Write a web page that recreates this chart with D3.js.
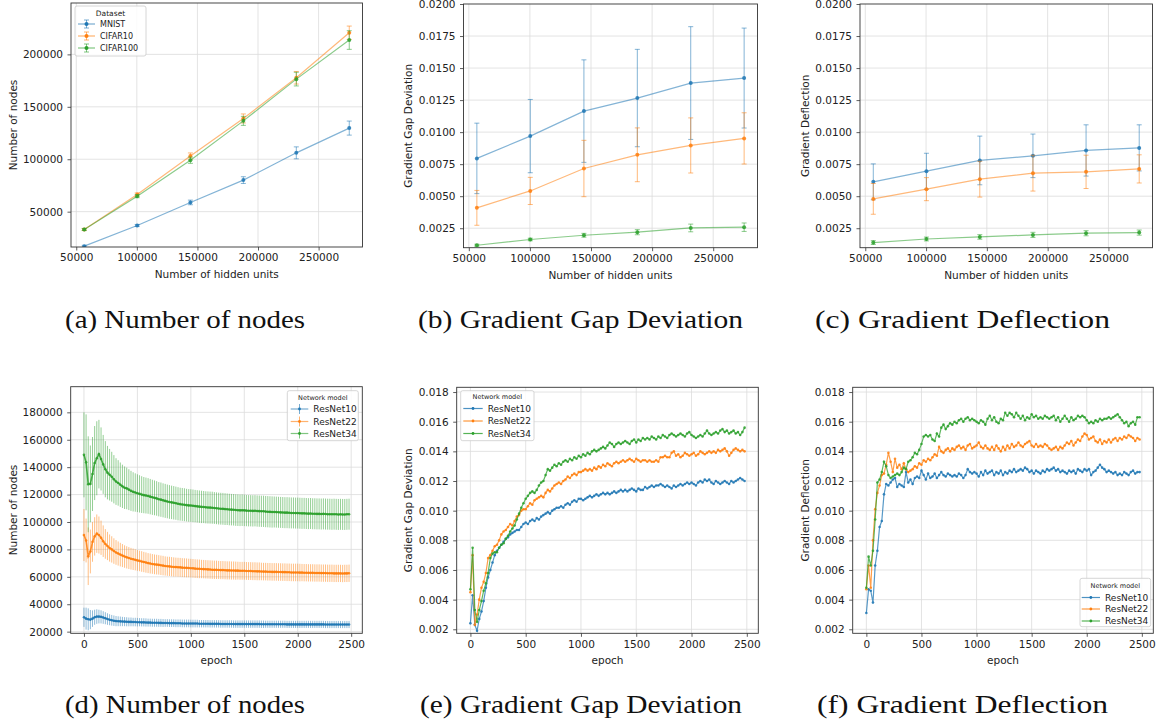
<!DOCTYPE html>
<html>
<head>
<meta charset="utf-8">
<script src="https://cdn.jsdelivr.net/npm/d3@7"></script>
<style>
body { margin: 0; background: #fff; }
svg text { font-family: "DejaVu Sans", sans-serif; fill: #222; }
svg text.caption { font-family: "Liberation Serif", "DejaVu Serif", serif; fill: #111; }
</style>
</head>
<body>
<div id="chart"></div>
<script>
// ---- top row: sweep over hidden units ----
const hiddenUnits = [56600, 100300, 144200, 187900, 231600, 275300];
const hiddenTicks = [50000, 100000, 150000, 200000, 250000];

const nodesMnist = [17100, 36800, 58800, 80100, 106100, 129700];
const nodesMnistErr = [800, 1000, 2200, 3200, 5700, 6700];
const nodesCifar10 = [33000, 66400, 103000, 138900, 177700, 220600];
const nodesCifar10Err = [1000, 1500, 3000, 4300, 6000, 6400];
const nodesCifar100 = [33000, 64800, 99100, 136600, 176400, 213700];
const nodesCifar100Err = [1000, 1500, 3000, 4300, 6500, 8900];
const nodesTicksTop = [50000, 100000, 150000, 200000];

const gapMnist = [0.00795, 0.00969, 0.01164, 0.01266, 0.01383, 0.01422];
const gapMnistErr = [0.00275, 0.00286, 0.0040, 0.0038, 0.0044, 0.0039];
const gapCifar10 = [0.00409, 0.00541, 0.00716, 0.00823, 0.00896, 0.00951];
const gapCifar10Err = [0.00136, 0.00106, 0.0022, 0.0021, 0.00215, 0.0020];
const gapCifar100 = [0.00117, 0.00162, 0.00195, 0.00219, 0.00252, 0.00258];
const gapCifar100Err = [0.00008, 0.0001, 0.00015, 0.0002, 0.0003, 0.00033];

const deflMnist = [0.00612, 0.00695, 0.00779, 0.00815, 0.00857, 0.00877];
const deflMnistErr = [0.0014, 0.0014, 0.0019, 0.0017, 0.0020, 0.0018];
const deflCifar10 = [0.00479, 0.00555, 0.00633, 0.0068, 0.0069, 0.00713];
const deflCifar10Err = [0.0012, 0.0009, 0.0014, 0.0014, 0.0013, 0.0011];
const deflCifar100 = [0.00138, 0.00166, 0.00182, 0.00198, 0.00211, 0.00216];
const deflCifar100Err = [0.00015, 0.00015, 0.00018, 0.0002, 0.0002, 0.0002];
const gradTicksTop = [0.0025, 0.005, 0.0075, 0.01, 0.0125, 0.015, 0.0175, 0.02];

// ---- bottom row: training curves, one point every 20 epochs ----
const epochs = d3.range(0, 2500, 20);
const epochTicks = [0, 500, 1000, 1500, 2000, 2500];

const nodesR10 = [
  30500, 29500, 29000, 28800, 29500, 30500, 31000, 31000, 30800, 30300,
  29800, 29200, 28700, 28300, 28000, 27700, 27600, 27500, 27400, 27300,
  27200, 27100, 27100, 27000, 27000, 26900, 26900, 26800, 26800, 26700,
  26600, 26600, 26500, 26500, 26500, 26400, 26400, 26300, 26300, 26300,
  26200, 26200, 26200, 26100, 26100, 26100, 26000, 26000, 26000, 26000,
  25900, 25900, 25900, 25900, 25800, 25800, 25800, 25800, 25800, 25700,
  25700, 25700, 25700, 25700, 25600, 25600, 25600, 25600, 25600, 25600,
  25500, 25500, 25500, 25500, 25500, 25500, 25500, 25500, 25500, 25500,
  25500, 25500, 25500, 25400, 25400, 25400, 25400, 25400, 25400, 25400,
  25400, 25400, 25400, 25400, 25400, 25300, 25300, 25300, 25300, 25300,
  25300, 25300, 25300, 25300, 25300, 25300, 25300, 25300, 25300, 25300,
  25300, 25300, 25300, 25200, 25200, 25200, 25200, 25200, 25200, 25200,
  25200, 25200, 25200, 25200, 25200];
const nodesR10Err = [
  7000, 8000, 8000, 7000, 6000, 5500, 5300, 5000, 4800, 4600,
  4400, 4200, 4000, 3900, 3800, 3700, 3600, 3500, 3400, 3300,
  3300, 3200, 3200, 3100, 3100, 3100, 3000, 3000, 3000, 3000,
  2900, 2900, 2900, 2900, 2900, 2900, 2900, 2900, 2800, 2800,
  2800, 2800, 2800, 2800, 2800, 2800, 2800, 2800, 2800, 2800,
  2800, 2800, 2800, 2800, 2700, 2700, 2700, 2700, 2700, 2700,
  2700, 2700, 2700, 2700, 2700, 2700, 2700, 2700, 2700, 2700,
  2700, 2700, 2700, 2700, 2700, 2700, 2700, 2700, 2700, 2700,
  2700, 2700, 2700, 2700, 2700, 2600, 2600, 2600, 2600, 2600,
  2600, 2600, 2600, 2600, 2600, 2600, 2600, 2600, 2600, 2600,
  2600, 2600, 2600, 2600, 2600, 2600, 2600, 2600, 2600, 2600,
  2600, 2600, 2600, 2600, 2600, 2600, 2600, 2600, 2600, 2600,
  2600, 2600, 2600, 2600, 2600];
const nodesR22 = [
  90500, 86500, 75000, 78500, 85500, 89500, 91500, 90500, 88500, 86000,
  84000, 82500, 81000, 80000, 78800, 77800, 77000, 76200, 75500, 74800,
  74200, 73700, 73200, 72800, 72400, 72000, 71600, 71200, 70800, 70400,
  70000, 69700, 69400, 69100, 68900, 68700, 68400, 68200, 67900, 67700,
  67600, 67400, 67200, 67100, 67000, 66900, 66700, 66600, 66500, 66400,
  66300, 66200, 66000, 65900, 65800, 65700, 65600, 65500, 65400, 65300,
  65200, 65100, 65100, 65000, 64900, 64900, 64800, 64700, 64700, 64600,
  64600, 64500, 64500, 64400, 64400, 64400, 64300, 64200, 64200, 64100,
  64100, 64000, 64000, 63900, 63800, 63800, 63700, 63700, 63600, 63600,
  63600, 63500, 63500, 63400, 63400, 63300, 63300, 63200, 63200, 63200,
  63200, 63100, 63100, 63000, 63000, 62900, 62900, 62900, 62800, 62800,
  62800, 62700, 62700, 62700, 62600, 62600, 62600, 62500, 62500, 62500,
  62500, 62400, 62500, 62500, 62600];
const nodesR22Err = [
  19000, 16000, 21000, 16000, 14500, 14000, 14000, 13500, 12500, 11500,
  10800, 10300, 9900, 9600, 9300, 9000, 8800, 8600, 8400, 8200,
  8100, 8000, 7900, 7800, 7700, 7600, 7500, 7500, 7400, 7400,
  7300, 7300, 7200, 7200, 7200, 7100, 7100, 7100, 7000, 7000,
  7000, 7000, 7000, 6900, 6900, 6900, 6900, 6900, 6900, 6800,
  6800, 6800, 6800, 6800, 6800, 6700, 6700, 6700, 6700, 6700,
  6700, 6700, 6700, 6600, 6600, 6600, 6600, 6600, 6600, 6600,
  6600, 6600, 6500, 6500, 6500, 6500, 6500, 6500, 6500, 6500,
  6500, 6500, 6500, 6400, 6400, 6400, 6400, 6400, 6400, 6400,
  6400, 6400, 6400, 6400, 6400, 6400, 6400, 6400, 6400, 6400,
  6400, 6400, 6300, 6300, 6300, 6300, 6300, 6300, 6300, 6300,
  6300, 6300, 6300, 6300, 6300, 6300, 6300, 6300, 6300, 6300,
  6300, 6300, 6300, 6300, 6300];
const nodesR34 = [
  149000, 143500, 127500, 127800, 135000, 143000, 146500, 149500, 146000, 142000,
  138500, 136000, 134500, 133000, 131200, 129500, 128500, 127200, 126000, 125000,
  124500, 123600, 122700, 122000, 121500, 121000, 120500, 120000, 119600, 119300,
  119000, 118500, 118000, 117600, 117200, 116600, 116300, 115800, 115400, 115000,
  114600, 114300, 114000, 113700, 113300, 113000, 112800, 112600, 112300, 112100,
  112000, 111800, 111600, 111400, 111200, 111000, 110900, 110700, 110600, 110500,
  110400, 110200, 110000, 109800, 109700, 109600, 109400, 109300, 109100, 109000,
  108900, 108700, 108600, 108500, 108600, 108500, 108300, 108200, 108200, 108100,
  108200, 108000, 107900, 107800, 107800, 107600, 107500, 107400, 107300, 107300,
  107200, 107100, 107000, 106900, 106800, 106800, 106700, 106600, 106600, 106500,
  106500, 106400, 106300, 106300, 106200, 106100, 106200, 106000, 106000, 105900,
  105900, 105800, 105900, 105800, 105700, 105700, 105600, 105700, 105600, 105500,
  105600, 105500, 105500, 105600, 105700];
const nodesR34Err = [
  31000, 35000, 35000, 28000, 27000, 27000, 27000, 25000, 23000, 21500,
  20500, 19500, 18800, 18200, 17600, 17000, 16600, 16200, 15800, 15500,
  15200, 14900, 14600, 14300, 14000, 13800, 13600, 13400, 13200, 13100,
  13000, 12900, 12800, 12700, 12600, 12500, 12500, 12400, 12400, 12300,
  12300, 12200, 12200, 12100, 12100, 12000, 12000, 12000, 11900, 11900,
  11900, 11900, 11800, 11800, 11800, 11800, 11700, 11700, 11700, 11700,
  11700, 11600, 11600, 11600, 11600, 11600, 11600, 11500, 11500, 11500,
  11500, 11500, 11500, 11500, 11500, 11500, 11400, 11400, 11400, 11400,
  11400, 11400, 11400, 11400, 11400, 11400, 11400, 11400, 11400, 11300,
  11300, 11300, 11300, 11300, 11300, 11300, 11300, 11300, 11300, 11300,
  11300, 11300, 11300, 11300, 11300, 11300, 11300, 11300, 11300, 11300,
  11300, 11300, 11300, 11300, 11300, 11300, 11300, 11300, 11300, 11300,
  11300, 11300, 11300, 11300, 11300];
const nodesTicksBottom = [20000, 40000, 60000, 80000, 100000, 120000, 140000, 160000, 180000];

const gapR10 = [
  0.0024, 0.0043, 0.0023, 0.0019, 0.0027, 0.0032, 0.0039, 0.0048, 0.0055, 0.0060,
  0.0065, 0.0070, 0.0073, 0.0075, 0.0077, 0.0079, 0.0081, 0.0082, 0.0084, 0.0085,
  0.0086, 0.0087, 0.0087, 0.0089, 0.0091, 0.0092, 0.0091, 0.0093, 0.0094, 0.0093,
  0.0095, 0.0094, 0.0096, 0.0097, 0.0098, 0.0099, 0.0098, 0.0100, 0.0101, 0.0102,
  0.0102, 0.0103, 0.0102, 0.0104, 0.0105, 0.0104, 0.0106, 0.0107, 0.0106, 0.0108,
  0.0108, 0.0107, 0.0108, 0.0109, 0.0110, 0.0109, 0.0110, 0.0111, 0.0110, 0.0111,
  0.0112, 0.0111, 0.0112, 0.0111, 0.0112, 0.0113, 0.0112, 0.0113, 0.0114, 0.0113,
  0.0114, 0.0113, 0.0114, 0.0115, 0.0114, 0.0113, 0.0115, 0.0114, 0.0114, 0.0116,
  0.0115, 0.0116, 0.0117, 0.0116, 0.0117, 0.0117, 0.0118, 0.0117, 0.0116, 0.0117,
  0.0116, 0.0115, 0.0117, 0.0116, 0.0117, 0.0118, 0.0117, 0.0118, 0.0119, 0.0118,
  0.0119, 0.0118, 0.0117, 0.0119, 0.0120, 0.0119, 0.0121, 0.0120, 0.0121, 0.0119,
  0.0118, 0.0120, 0.0119, 0.0118, 0.0119, 0.0120, 0.0119, 0.0118, 0.0120, 0.0119,
  0.0120, 0.0121, 0.0122, 0.0121, 0.0120];
const gapR22 = [
  0.0045, 0.0070, 0.0023, 0.0030, 0.0040, 0.0048, 0.0052, 0.0058, 0.0068, 0.0070,
  0.0073, 0.0076, 0.0077, 0.0080, 0.0084, 0.0086, 0.0087, 0.0089, 0.0091, 0.0090,
  0.0093, 0.0096, 0.0097, 0.0100, 0.0101, 0.0101, 0.0103, 0.0105, 0.0104, 0.0107,
  0.0108, 0.0109, 0.0110, 0.0109, 0.0112, 0.0114, 0.0113, 0.0115, 0.0117, 0.0118,
  0.0119, 0.0118, 0.0120, 0.0121, 0.0123, 0.0122, 0.0124, 0.0125, 0.0124, 0.0126,
  0.0126, 0.0127, 0.0128, 0.0127, 0.0128, 0.0127, 0.0129, 0.0128, 0.0130, 0.0129,
  0.0131, 0.0130, 0.0132, 0.0131, 0.0130, 0.0132, 0.0133, 0.0132, 0.0133, 0.0134,
  0.0133, 0.0134, 0.0135, 0.0134, 0.0133, 0.0135, 0.0134, 0.0133, 0.0134, 0.0134,
  0.0133, 0.0134, 0.0133, 0.0133, 0.0134, 0.0133, 0.0136, 0.0136, 0.0137, 0.0136,
  0.0136, 0.0139, 0.0140, 0.0137, 0.0138, 0.0136, 0.0137, 0.0139, 0.0138, 0.0137,
  0.0138, 0.0139, 0.0137, 0.0138, 0.0140, 0.0139, 0.0138, 0.0139, 0.0140, 0.0139,
  0.0140, 0.0139, 0.0141, 0.0140, 0.0141, 0.0142, 0.0140, 0.0137, 0.0139, 0.0141,
  0.0142, 0.0141, 0.0140, 0.0141, 0.0140];
const gapR34 = [
  0.0047, 0.0075, 0.0033, 0.0025, 0.0033, 0.0039, 0.0046, 0.0051, 0.0058, 0.0068,
  0.0071, 0.0072, 0.0072, 0.0075, 0.0077, 0.0078, 0.0081, 0.0083, 0.0086, 0.0088,
  0.0090, 0.0094, 0.0098, 0.0102, 0.0105, 0.0108, 0.0110, 0.0112, 0.0113, 0.0112,
  0.0114, 0.0117, 0.0119, 0.0120, 0.0124, 0.0128, 0.0127, 0.0129, 0.0131, 0.0130,
  0.0132, 0.0131, 0.0133, 0.0134, 0.0133, 0.0135, 0.0134, 0.0136, 0.0135, 0.0137,
  0.0136, 0.0138, 0.0137, 0.0139, 0.0138, 0.0140, 0.0141, 0.0140, 0.0141, 0.0142,
  0.0143, 0.0142, 0.0144, 0.0146, 0.0145, 0.0143, 0.0145, 0.0146, 0.0145, 0.0146,
  0.0147, 0.0146, 0.0145, 0.0147, 0.0148, 0.0146, 0.0148, 0.0147, 0.0149, 0.0148,
  0.0149, 0.0148, 0.0150, 0.0149, 0.0148, 0.0150, 0.0149, 0.0151, 0.0150, 0.0149,
  0.0151, 0.0152, 0.0151, 0.0150, 0.0151, 0.0152, 0.0151, 0.0150, 0.0152, 0.0153,
  0.0151, 0.0150, 0.0149, 0.0150, 0.0151, 0.0150, 0.0152, 0.0154, 0.0152, 0.0151,
  0.0152, 0.0153, 0.0152, 0.0154, 0.0155, 0.0153, 0.0154, 0.0152, 0.0153, 0.0154,
  0.0152, 0.0153, 0.0151, 0.0153, 0.0156];

const deflR10 = [
  0.0031, 0.0047, 0.0046, 0.0038, 0.0063, 0.0073, 0.0089, 0.0093, 0.0111, 0.0118,
  0.0117, 0.0119, 0.0121, 0.0122, 0.0116, 0.0118, 0.0117, 0.0116, 0.0126, 0.0119,
  0.0121, 0.0118, 0.0122, 0.0123, 0.0122, 0.0127, 0.0124, 0.0121, 0.0125, 0.0122,
  0.0123, 0.0125, 0.0122, 0.0124, 0.0126, 0.0124, 0.0123, 0.0125, 0.0124, 0.0123,
  0.0124, 0.0123, 0.0125, 0.0124, 0.0122, 0.0124, 0.0128, 0.0126, 0.0125, 0.0126,
  0.0125, 0.0123, 0.0126, 0.0124, 0.0127, 0.0125, 0.0126, 0.0127, 0.0124, 0.0126,
  0.0125, 0.0127, 0.0124, 0.0126, 0.0125, 0.0127, 0.0126, 0.0128, 0.0126, 0.0127,
  0.0128, 0.0127, 0.0129, 0.0128, 0.0126, 0.0127, 0.0125, 0.0127, 0.0126, 0.0125,
  0.0127, 0.0126, 0.0128, 0.0127, 0.0128, 0.0129, 0.0127, 0.0128, 0.0126, 0.0127,
  0.0126, 0.0125, 0.0127, 0.0126, 0.0127, 0.0125, 0.0128, 0.0127, 0.0126, 0.0128,
  0.0127, 0.0128, 0.0124, 0.0126, 0.0127, 0.0129, 0.0131, 0.0129, 0.0128, 0.0126,
  0.0127, 0.0126, 0.0125, 0.0126, 0.0124, 0.0125, 0.0124, 0.0126, 0.0125, 0.0124,
  0.0126, 0.0127, 0.0125, 0.0126, 0.0126];
const deflR22 = [
  0.0047, 0.0063, 0.0048, 0.0080, 0.0101, 0.0112, 0.0117, 0.0124, 0.0125, 0.0131,
  0.0139, 0.0133, 0.0126, 0.0135, 0.0129, 0.0131, 0.0128, 0.0132, 0.0128, 0.0126,
  0.0127, 0.0128, 0.0130, 0.0129, 0.0132, 0.0131, 0.0134, 0.0133, 0.0135, 0.0134,
  0.0136, 0.0138, 0.0137, 0.0143, 0.0140, 0.0139, 0.0141, 0.0142, 0.0140, 0.0142,
  0.0141, 0.0143, 0.0144, 0.0142, 0.0143, 0.0141, 0.0144, 0.0145, 0.0142, 0.0143,
  0.0144, 0.0146, 0.0143, 0.0142, 0.0144, 0.0142, 0.0141, 0.0143, 0.0141, 0.0144,
  0.0142, 0.0140, 0.0143, 0.0141, 0.0144, 0.0142, 0.0145, 0.0143, 0.0144, 0.0146,
  0.0144, 0.0143, 0.0145, 0.0146, 0.0147, 0.0144, 0.0143, 0.0145, 0.0143, 0.0144,
  0.0143, 0.0145, 0.0144, 0.0142, 0.0141, 0.0142, 0.0143, 0.0141, 0.0143, 0.0142,
  0.0144, 0.0146, 0.0145, 0.0147, 0.0144, 0.0146, 0.0148, 0.0147, 0.0150, 0.0152,
  0.0151, 0.0148, 0.0149, 0.0150, 0.0147, 0.0146, 0.0148, 0.0145, 0.0147, 0.0146,
  0.0148, 0.0146, 0.0148, 0.0149, 0.0147, 0.0149, 0.0148, 0.0150, 0.0149, 0.0151,
  0.0150, 0.0149, 0.0147, 0.0149, 0.0148];
const deflR34 = [
  0.0048, 0.0069, 0.0063, 0.0073, 0.0094, 0.0119, 0.0121, 0.0126, 0.0133, 0.0130,
  0.0124, 0.0122, 0.0123, 0.0124, 0.0125, 0.0124, 0.0126, 0.0129, 0.0128, 0.0133,
  0.0134, 0.0136, 0.0139, 0.0138, 0.0141, 0.0145, 0.0150, 0.0151, 0.0150, 0.0151,
  0.0148, 0.0147, 0.0152, 0.0150, 0.0156, 0.0158, 0.0155, 0.0157, 0.0159, 0.0158,
  0.0160, 0.0159, 0.0161, 0.0162, 0.0160, 0.0162, 0.0163, 0.0161, 0.0162, 0.0161,
  0.0160, 0.0159, 0.0161, 0.0160, 0.0158, 0.0162, 0.0164, 0.0161, 0.0163, 0.0160,
  0.0159, 0.0162, 0.0161, 0.0166, 0.0164, 0.0166, 0.0165, 0.0163, 0.0166, 0.0164,
  0.0162, 0.0164, 0.0161, 0.0163, 0.0162, 0.0165, 0.0163, 0.0164, 0.0162, 0.0163,
  0.0162, 0.0164, 0.0163, 0.0162, 0.0163, 0.0164, 0.0161, 0.0163, 0.0160, 0.0162,
  0.0164, 0.0162, 0.0160, 0.0163, 0.0161, 0.0162, 0.0164, 0.0163, 0.0164, 0.0163,
  0.0161, 0.0159, 0.0160, 0.0159, 0.0161, 0.0160, 0.0162, 0.0161, 0.0162, 0.0162,
  0.0163, 0.0162, 0.0163, 0.0164, 0.0165, 0.0163, 0.0161, 0.0159, 0.0160, 0.0157,
  0.0159, 0.0160, 0.0158, 0.0163, 0.0163];
const gradTicksBottom = [0.002, 0.004, 0.006, 0.008, 0.010, 0.012, 0.014, 0.016, 0.018];

const topNames = ['MNIST', 'CIFAR10', 'CIFAR100'];
const bottomNames = ['ResNet10', 'ResNet22', 'ResNet34'];
const colors = ['#1f77b4', '#ff7f0e', '#2ca02c'];

const W = 1156, H = 723;
const svg = d3.select('#chart').append('svg')
  .attr('width', W).attr('height', H)
  .style('background', '#fff');

const panels = [
  { id: 'a', box: [71, 3, 362.5, 247], xs: hiddenUnits, xDomain: [45665, 286235], xTicks: hiddenTicks,
    yDomain: [16300, 249000], yTicks: nodesTicksTop, yFmt: d3.format('d'), kind: 'capped',
    xLabel: 'Number of hidden units', yLabel: 'Number of nodes', yLabelX: 17,
    series: [[nodesMnist, nodesMnistErr], [nodesCifar10, nodesCifar10Err], [nodesCifar100, nodesCifar100Err]],
    legend: { names: topNames, title: 'Dataset', box: [75, 6, 146, 56], titleY: 15.5, rows: [27, 39, 51], h: [78, 95], tx: 100, fs: 8, tfs: 7.5 },
    caption: '(a) Number of nodes', cap: [65, 305, 328] },
  { id: 'b', box: [463.5, 4, 757.5, 247.7], xs: hiddenUnits, xDomain: [45665, 286235], xTicks: hiddenTicks,
    yDomain: [0.00098, 0.02], yTicks: gradTicksTop, yFmt: d3.format('.4f'), kind: 'capped',
    xLabel: 'Number of hidden units', yLabel: 'Gradient Gap Deviation', yLabelX: 412,
    series: [[gapMnist, gapMnistErr], [gapCifar10, gapCifar10Err], [gapCifar100, gapCifar100Err]],
    caption: '(b) Gradient Gap Deviation', cap: [418, 743, 328] },
  { id: 'c', box: [860, 4, 1152.5, 247.7], xs: hiddenUnits, xDomain: [45665, 286235], xTicks: hiddenTicks,
    yDomain: [0.00098, 0.02], yTicks: gradTicksTop, yFmt: d3.format('.4f'), kind: 'capped',
    xLabel: 'Number of hidden units', yLabel: 'Gradient Deflection', yLabelX: 809,
    series: [[deflMnist, deflMnistErr], [deflCifar10, deflCifar10Err], [deflCifar100, deflCifar100Err]],
    caption: '(c) Gradient Deflection', cap: [815, 1110, 328] },
  { id: 'd', box: [70.7, 386.7, 362.3, 633.3], xs: epochs, xDomain: [-124, 2604], xTicks: epochTicks,
    yDomain: [18800, 198700], yTicks: nodesTicksBottom, yFmt: d3.format('d'), kind: 'band',
    xLabel: 'epoch', yLabel: 'Number of nodes', yLabelX: 16.7,
    series: [[nodesR10, nodesR10Err], [nodesR22, nodesR22Err], [nodesR34, nodesR34Err]],
    legend: { names: bottomNames, title: 'Network model', box: [287.3, 390.7, 358.3, 440.7], titleY: 400, rows: [412, 424.5, 436.5], h: [290.7, 308.3], tx: 313.3, fs: 9, tfs: 6.5 },
    caption: '(d) Number of nodes', cap: [65, 305, 713] },
  { id: 'e', box: [456.7, 387.3, 758.3, 633.3], xs: epochs, xDomain: [-124, 2604], xTicks: epochTicks,
    yDomain: [0.00173, 0.01832], yTicks: gradTicksBottom, yFmt: d3.format('.3f'), kind: 'line',
    xLabel: 'epoch', yLabel: 'Gradient Gap Deviation', yLabelX: 412,
    series: [[gapR10], [gapR22], [gapR34]],
    legend: { names: bottomNames, title: 'Network model', box: [460.7, 390.7, 534, 440.7], titleY: 399, rows: [411.5, 424, 436.5], h: [463.3, 482.7], tx: 487.7, fs: 9, tfs: 6.5 },
    caption: '(e) Gradient Gap Deviation', cap: [420, 742, 713] },
  { id: 'f', box: [852.7, 387.3, 1153.3, 633.3], xs: epochs, xDomain: [-124, 2604], xTicks: epochTicks,
    yDomain: [0.00173, 0.01832], yTicks: gradTicksBottom, yFmt: d3.format('.3f'), kind: 'line',
    xLabel: 'epoch', yLabel: 'Gradient Deflection', yLabelX: 809,
    series: [[deflR10], [deflR22], [deflR34]],
    legend: { names: bottomNames, title: 'Network model', box: [1080, 578.3, 1150.7, 626.7], titleY: 588, rows: [600.5, 612, 624], h: [1081.7, 1100], tx: 1105, fs: 9, tfs: 6.5 },
    caption: '(f) Gradient Deflection', cap: [817, 1108, 713] }
];

function drawPanel(p) {
  const [x0, y0, x1, y1] = p.box;
  const x = d3.scaleLinear().domain(p.xDomain).range([x0, x1]);
  const y = d3.scaleLinear().domain(p.yDomain).range([y1, y0]);
  const g = svg.append('g').attr('class', 'panel-' + p.id);

  svg.append('clipPath').attr('id', 'clip-' + p.id)
    .append('rect').attr('x', x0).attr('y', y0).attr('width', x1 - x0).attr('height', y1 - y0);

  // grid
  const grid = g.append('g').attr('stroke', '#dcdcdc').attr('stroke-width', 0.8);
  grid.selectAll('.gx').data(p.xTicks).join('line')
    .attr('x1', d => x(d)).attr('x2', d => x(d)).attr('y1', y0).attr('y2', y1);
  grid.selectAll('.gy').data(p.yTicks.filter(d => y(d) > y0 + 0.5)).join('line')
    .attr('x1', x0).attr('x2', x1).attr('y1', d => y(d)).attr('y2', d => y(d));

  const plot = g.append('g').attr('clip-path', `url(#clip-${p.id})`);
  const line = d3.line().x(d => x(d.x)).y(d => y(d.v));

  p.series.forEach(([vals, errs], si) => {
    const c = colors[si];
    const pts = p.xs.map((xv, i) => ({ x: xv, v: vals[i], e: errs ? errs[i] : 0 }));
    const sg = plot.append('g');
    if (p.kind === 'capped') {
      const eb = sg.append('g').attr('stroke', c).attr('stroke-opacity', 0.55).attr('stroke-width', 1);
      pts.forEach(d => {
        const ya = y(d.v - d.e), yb = y(d.v + d.e), xp = x(d.x);
        eb.append('line').attr('x1', xp).attr('x2', xp).attr('y1', ya).attr('y2', yb);
        eb.append('line').attr('x1', xp - 2.5).attr('x2', xp + 2.5).attr('y1', ya).attr('y2', ya);
        eb.append('line').attr('x1', xp - 2.5).attr('x2', xp + 2.5).attr('y1', yb).attr('y2', yb);
      });
      sg.append('path').datum(pts).attr('d', line).attr('fill', 'none')
        .attr('stroke', c).attr('stroke-opacity', 0.55).attr('stroke-width', 1.2);
      sg.selectAll('circle').data(pts).join('circle')
        .attr('cx', d => x(d.x)).attr('cy', d => y(d.v)).attr('r', 2)
        .attr('fill', c).attr('fill-opacity', 0.85);
    } else if (p.kind === 'band') {
      sg.append('g').attr('stroke', c).attr('stroke-opacity', 0.5).attr('stroke-width', 1)
        .selectAll('line').data(pts).join('line')
        .attr('x1', d => x(d.x)).attr('x2', d => x(d.x))
        .attr('y1', d => y(d.v - d.e)).attr('y2', d => y(d.v + d.e));
      sg.append('path').datum(pts).attr('d', line).attr('fill', 'none')
        .attr('stroke', c).attr('stroke-opacity', 0.85).attr('stroke-width', 1.6);
      sg.selectAll('circle').data(pts).join('circle')
        .attr('cx', d => x(d.x)).attr('cy', d => y(d.v)).attr('r', 1.3)
        .attr('fill', c).attr('fill-opacity', 0.85);
    } else {
      sg.append('path').datum(pts).attr('d', line).attr('fill', 'none')
        .attr('stroke', c).attr('stroke-opacity', 0.75).attr('stroke-width', 1.2);
      sg.selectAll('circle').data(pts).join('circle')
        .attr('cx', d => x(d.x)).attr('cy', d => y(d.v)).attr('r', 1.3)
        .attr('fill', c).attr('fill-opacity', 0.85);
    }
  });

  // axes
  const fmtX = d3.format('d');
  const ax = g.append('g').attr('transform', `translate(0,${y1})`)
    .call(d3.axisBottom(x).tickValues(p.xTicks).tickFormat(fmtX).tickSize(3.5).tickPadding(3.5));
  const ay = g.append('g').attr('transform', `translate(${x0},0)`)
    .call(d3.axisLeft(y).tickValues(p.yTicks).tickFormat(p.yFmt).tickSize(3.5).tickPadding(4.5));
  [ax, ay].forEach(a => {
    a.select('.domain').remove();
    a.selectAll('line').attr('stroke', '#333').attr('stroke-width', 0.8);
    a.selectAll('text').attr('font-size', 10.5).attr('font-family', '"DejaVu Sans", sans-serif').attr('fill', '#222');
  });

  g.append('rect').attr('x', x0).attr('y', y0).attr('width', x1 - x0).attr('height', y1 - y0)
    .attr('fill', 'none').attr('stroke', '#333').attr('stroke-width', 0.9);

  g.append('text').attr('x', (x0 + x1) / 2).attr('y', y1 + 31)
    .attr('text-anchor', 'middle').attr('font-size', 10.5).text(p.xLabel);
  g.append('text').attr('transform', `translate(${p.yLabelX},${(y0 + y1) / 2}) rotate(-90)`)
    .attr('text-anchor', 'middle').attr('font-size', 10.5).text(p.yLabel);

  if (p.legend) drawLegend(g, p);

  const [cx0, cx1, cy] = p.cap;
  svg.append('text').attr('class', 'caption').attr('x', cx0).attr('y', cy)
    .attr('textLength', cx1 - cx0).attr('lengthAdjust', 'spacingAndGlyphs')
    .attr('font-size', 25).text(p.caption);
}

function drawLegend(g, p) {
  const L = p.legend;
  const [bx0, by0, bx1, by1] = L.box;
  const lg = g.append('g');
  lg.append('rect').attr('x', bx0).attr('y', by0).attr('width', bx1 - bx0).attr('height', by1 - by0)
    .attr('rx', 2).attr('fill', '#fff').attr('fill-opacity', 0.85)
    .attr('stroke', '#ccc').attr('stroke-width', 0.8);
  lg.append('text').attr('x', (bx0 + bx1) / 2).attr('y', L.titleY)
    .attr('text-anchor', 'middle').attr('font-size', L.tfs).text(L.title);
  L.names.forEach((name, i) => {
    const c = colors[i], yy = L.rows[i] - 3;
    const [hx0, hx1] = L.h, hm = (hx0 + hx1) / 2;
    lg.append('line').attr('x1', hx0).attr('x2', hx1).attr('y1', yy).attr('y2', yy)
      .attr('stroke', c).attr('stroke-width', 1.2).attr('stroke-opacity', p.kind === 'line' ? 0.8 : 0.6);
    if (p.kind === 'capped') {
      lg.append('line').attr('x1', hm).attr('x2', hm).attr('y1', yy - 4).attr('y2', yy + 4)
        .attr('stroke', c).attr('stroke-opacity', 0.6);
      [yy - 4, yy + 4].forEach(cy => lg.append('line').attr('x1', hm - 2.5).attr('x2', hm + 2.5)
        .attr('y1', cy).attr('y2', cy).attr('stroke', c).attr('stroke-opacity', 0.6));
    } else if (p.kind === 'band') {
      lg.append('line').attr('x1', hm).attr('x2', hm).attr('y1', yy - 5).attr('y2', yy + 5)
        .attr('stroke', c).attr('stroke-opacity', 0.6);
    }
    lg.append('circle').attr('cx', hm).attr('cy', yy).attr('r', p.kind === 'capped' ? 2 : 1.4)
      .attr('fill', c);
    lg.append('text').attr('x', L.tx).attr('y', L.rows[i]).attr('font-size', L.fs).text(name);
  });
}

panels.forEach(drawPanel);
</script>
</body>
</html>
